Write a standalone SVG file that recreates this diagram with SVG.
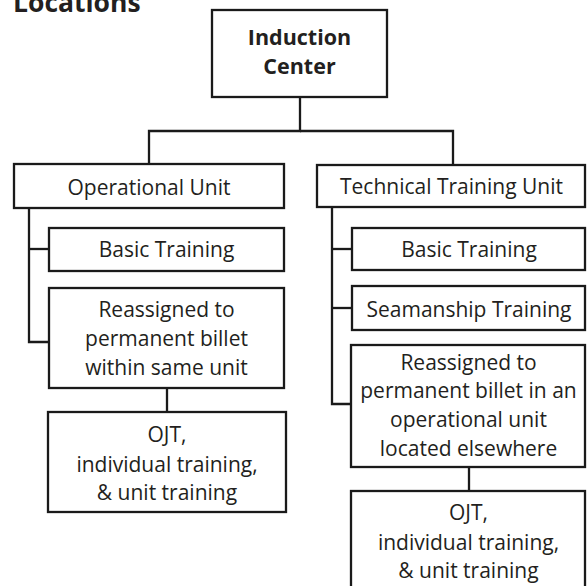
<svg xmlns="http://www.w3.org/2000/svg" width="587" height="586" viewBox="0 0 587 586">
<style>
.box{fill:#fff;stroke:#1a1a1a;stroke-width:2.3}
.con{fill:none;stroke:#1a1a1a;stroke-width:2.3}
text{font-family:"Open Sans","Noto Sans","Liberation Sans",sans-serif;font-size:21px;fill:#231f20;text-anchor:middle}
.b{font-weight:bold;font-size:21.5px}
.title{font-family:"Open Sans","Liberation Sans",sans-serif;font-weight:bold;font-size:26.5px;text-anchor:start}
</style>
<rect width="587" height="586" fill="#fff"/>
<text class="title" x="13" y="12">Locations</text>
<g id="connectors">
<polyline class="con" points="300,97 300,131 149,131 149,164"/>
<polyline class="con" points="300,131 453,131 453,165"/>
<polyline class="con" points="29,208 29,342 49,342"/>
<line class="con" x1="29" y1="249" x2="49" y2="249"/>
<line class="con" x1="167" y1="388" x2="167" y2="412"/>
<polyline class="con" points="332,207 332,404 352,404"/>
<line class="con" x1="332" y1="249" x2="352" y2="249"/>
<line class="con" x1="332" y1="308" x2="352" y2="308"/>
<line class="con" x1="469" y1="467" x2="469" y2="491"/>
</g>
<g id="induction">
<rect class="box" x="212" y="10" width="175" height="87"/>
<text class="b" x="299.5" y="45">Induction</text>
<text class="b" x="299.5" y="74">Center</text>
</g>
<g id="operational">
<rect class="box" x="14" y="164" width="270" height="44"/>
<text x="149" y="195">Operational Unit</text>
</g>
<g id="op-basic">
<rect class="box" x="49" y="228" width="235" height="43"/>
<text x="166.5" y="257">Basic Training</text>
</g>
<g id="op-reassigned">
<rect class="box" x="49" y="288" width="235" height="100"/>
<text x="166.5" y="317">Reassigned to</text>
<text x="166.5" y="346">permanent billet</text>
<text x="166.5" y="375">within same unit</text>
</g>
<g id="op-ojt">
<rect class="box" x="48" y="412" width="238" height="100"/>
<text x="167" y="442">OJT,</text>
<text x="167" y="472">individual training,</text>
<text x="167" y="500">&amp; unit training</text>
</g>
<g id="technical">
<rect class="box" x="317" y="165" width="268" height="42"/>
<text x="451.5" y="194">Technical Training Unit</text>
</g>
<g id="tech-basic">
<rect class="box" x="352" y="228" width="233" height="42"/>
<text x="469" y="257">Basic Training</text>
</g>
<g id="tech-seamanship">
<rect class="box" x="352" y="286" width="233" height="44"/>
<text x="469" y="317">Seamanship Training</text>
</g>
<g id="tech-reassigned">
<rect class="box" x="351" y="345" width="234" height="122"/>
<text x="468.5" y="370">Reassigned to</text>
<text x="468.5" y="398">permanent billet in an</text>
<text x="468.5" y="427">operational unit</text>
<text x="468.5" y="456">located elsewhere</text>
</g>
<g id="tech-ojt">
<rect class="box" x="351" y="491" width="234" height="110"/>
<text x="468.5" y="520">OJT,</text>
<text x="468.5" y="550">individual training,</text>
<text x="468.5" y="578">&amp; unit training</text>
</g>
</svg>
